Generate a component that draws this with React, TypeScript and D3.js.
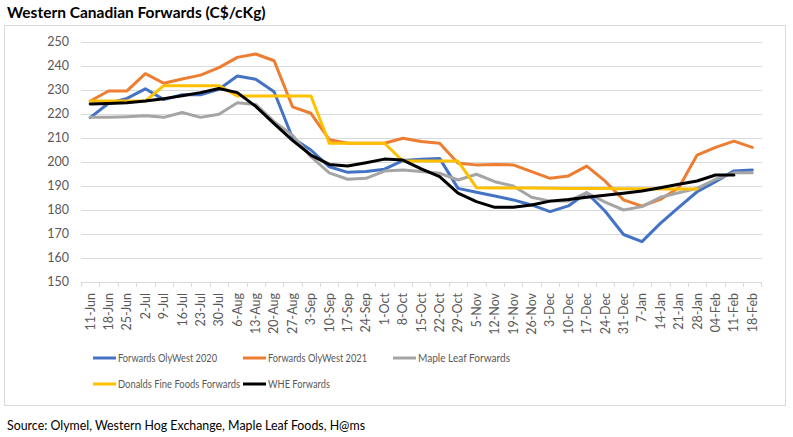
import React from "react";
import * as d3 from "d3";

const categories = ["11-Jun","18-Jun","25-Jun","2-Jul","9-Jul","16-Jul","23-Jul","30-Jul","6-Aug","13-Aug","20-Aug","27-Aug","3-Sep","10-Sep","17-Sep","24-Sep","1-Oct","8-Oct","15-Oct","22-Oct","29-Oct","5-Nov","12-Nov","19-Nov","26-Nov","3-Dec","10-Dec","17-Dec","24-Dec","31-Dec","7-Jan","14-Jan","21-Jan","28-Jan","04-Feb","11-Feb","18-Feb"];

const olyWest2020 = [218.5,224.5,226.5,230.5,226,228,228,230.3,235.8,234.5,229.3,210,205,198,195.7,196,197,200.6,201.1,201.5,189,187.4,185.8,184.2,182.1,179.3,181.7,187.2,179.5,169.8,166.8,174.4,181.1,187.6,191.8,196.3,196.7];
const olyWest2021 = [225.4,229.6,229.6,236.8,232.8,234.6,236.2,239.3,243.6,245,242.2,223,220.3,209.3,207.8,207.8,207.8,209.9,208.5,207.8,199.5,198.8,199,198.8,196,193.2,194.2,198.3,192,184.2,181.6,184.4,189.3,202.9,206.1,208.7,206.1];
const mapleLeaf = [218.6,218.6,218.9,219.3,218.6,220.6,218.6,219.9,224.7,224,216.8,211.2,202.2,195.5,192.8,193.2,196.2,196.7,196,195.3,192.5,194.9,191.8,190,185.3,183.7,183.7,187.2,183.3,180,181.4,185.3,187.2,189,192.8,195.5,195.5];
const donalds: (number | null)[] = [225.4,225.4,225.4,225.4,231.8,231.8,231.8,231.8,227.5,227.5,227.5,227.5,227.5,207.8,207.8,207.8,207.8,200.4,200.4,200.4,200.4,189.3,189.2,189.2,189.2,189.1,189,189,189,188.9,188.9,188.8,188.8,188.8,null,null,null];
const whe: (number | null)[] = [224.2,224.4,224.7,225.4,226.4,227.6,228.9,230.6,228.9,223.2,216,209,202.9,199,198.3,199.7,201.2,200.8,197.1,193.9,187,183.5,181.1,181.1,182.1,183.7,184.4,185.3,186.1,187,187.9,189.3,190.7,192.1,194.6,194.6,null];

const yTicks = [150,160,170,180,190,200,210,220,230,240,250];

const seriesNames = ["Forwards OlyWest 2020","Forwards OlyWest 2021","Maple Leaf Forwards","Donalds Fine Foods Forwards","WHE Forwards"];
const seriesColors = ["#4472C4","#ED7D31","#A5A5A5","#FFC000","#000000"];
const seriesData: (number | null)[][] = [olyWest2020, olyWest2021, mapleLeaf, donalds, whe];
const legendTextWidths = [99, 99, 92, 122, 62];

const FONT = "Lato, 'Open Sans', sans-serif";

export default function App() {
  const W = 793, H = 437;
  const x = d3.scaleBand<string>().domain(categories).range([81, 761.5]);
  const y = d3.scaleLinear().domain([150, 250]).range([282, 42]);
  const bw = x.bandwidth();
  const cx = (c: string) => (x(c) as number) + bw / 2;

  const line = d3.line<number | null>()
    .defined((d) => d != null)
    .x((_, i) => cx(categories[i]))
    .y((d) => y(d as number));

  const legendPos = [
    { col: 0, row: 0 }, { col: 1, row: 0 }, { col: 2, row: 0 },
    { col: 0, row: 1 }, { col: 1, row: 1 },
  ];

  return (
    <svg width={W} height={H} style={{ position: "absolute", left: 0, top: 0, background: "#fff" }} fontFamily={FONT}>
      <rect x={0} y={0} width={W} height={H} fill="#fff" />
      <text x={7} y={18} fontSize={15.5} fontWeight="bold" fill="#000">Western Canadian Forwards (C$/cKg)</text>
      <rect x={4.5} y={25.5} width={781} height={380} fill="none" stroke="#D9D9D9" strokeWidth={1} />

      {yTicks.map((t) => (
        <g key={t}>
          {t !== 150 && (
            <line x1={81} x2={762} y1={Math.round(y(t)) + 0.5} y2={Math.round(y(t)) + 0.5} stroke="#D9D9D9" strokeWidth={1} />
          )}
          <text x={69} y={y(t)} dy="0.35em" textAnchor="end" fontSize={12.5} fill="#595959">{t}</text>
        </g>
      ))}

      <line x1={81} x2={762} y1={282.5} y2={282.5} stroke="#D9D9D9" strokeWidth={1} />
      {categories.map((c, i) => (
        <line key={"tk" + i} x1={Math.round(x(c) as number) + 0.5} x2={Math.round(x(c) as number) + 0.5} y1={282} y2={287} stroke="#D9D9D9" />
      ))}
      <line x1={761.5} x2={761.5} y1={282} y2={287} stroke="#D9D9D9" />

      {categories.map((c) => (
        <text key={c} transform={`translate(${cx(c)},293) rotate(-90)`} textAnchor="end" dy="0.35em" fontSize={12.5} fill="#595959">{c}</text>
      ))}

      {seriesData.map((s, k) => (
        <path key={k} d={line(s) || ""} fill="none" stroke={seriesColors[k]} strokeWidth={3} strokeLinejoin="round" strokeLinecap="round" />
      ))}

      {seriesNames.map((n, k) => {
        const lx = 93 + legendPos[k].col * 150;
        const ly = 358 + legendPos[k].row * 26;
        return (
          <g key={n}>
            <line x1={lx} x2={lx + 23} y1={ly} y2={ly} stroke={seriesColors[k]} strokeWidth={3} />
            <text x={lx + 25} y={ly} dy="0.35em" fontSize={11.5} fill="#595959" textLength={legendTextWidths[k]} lengthAdjust="spacingAndGlyphs">{n}</text>
          </g>
        );
      })}

      <text x={7} y={430} fontSize={14} fill="#000" textLength={358} lengthAdjust="spacingAndGlyphs">Source: Olymel, Western Hog Exchange, Maple Leaf Foods, H@ms</text>
    </svg>
  );
}
